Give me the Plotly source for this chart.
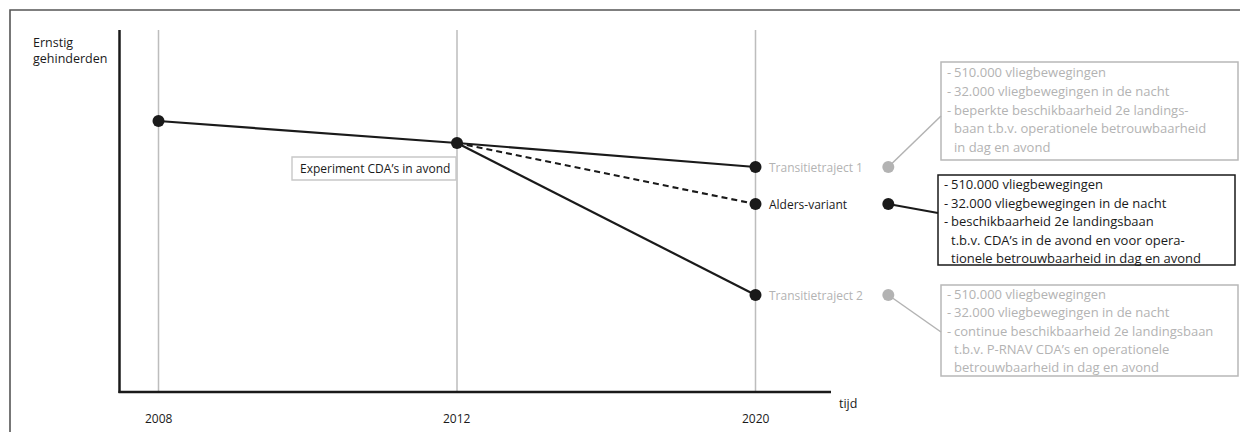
import plotly.graph_objects as go

# ---------------- data ----------------
years = ["2008", "2012", "2020"]
base_values = [271, 249]                      # ernstig gehinderden (relative index) 2008, 2012
scenarios = ["Transitietraject 1", "Alders-variant", "Transitietraject 2"]
scenario_2020 = [225, 188, 97]                # value in 2020 per scenario
scenario_active = [False, True, False]
scenario_dash = ["solid", "6px,4px", "solid"]
experiment_label = "Experiment CDA\u2019s in avond"
y_title = ["Ernstig", "gehinderden"]
x_title = "tijd"
box_lines = [
    [("-", "510.000 vliegbewegingen"),
     ("-", "32.000 vliegbewegingen in de nacht"),
     ("-", "beperkte beschikbaarheid 2e landings-"),
     ("", "baan t.b.v. operationele betrouwbaarheid"),
     ("", "in dag en avond")],
    [("-", "510.000 vliegbewegingen"),
     ("-", "32.000 vliegbewegingen in de nacht"),
     ("-", "beschikbaarheid 2e landingsbaan"),
     ("", "t.b.v. CDA\u2019s in de avond en voor opera-"),
     ("", "tionele betrouwbaarheid in dag en avond")],
    [("-", "510.000 vliegbewegingen"),
     ("-", "32.000 vliegbewegingen in de nacht"),
     ("-", "continue beschikbaarheid 2e landingsbaan"),
     ("", "t.b.v. P-RNAV CDA\u2019s en operationele"),
     ("", "betrouwbaarheid in dag en avond")],
]

# ---------------- layout constants (page pixels) ----------------
PAGE_W, PAGE_H = 1248, 432
OFF = 8                                  # default page body margin
W, H = PAGE_W - OFF, PAGE_H - OFF
FONT = "Open Sans"
BLACK = "#1a1a1a"
GREY = "#b3b3b3"
GRID = "#bdbdbd"
PX_PER_YEARSTEP = 298.5
X0_PX = 158.5            # page pixel of first category
BASE_PX = 392            # page pixel of x axis line
x0 = -(X0_PX - OFF) / PX_PER_YEARSTEP
x1 = x0 + W / PX_PER_YEARSTEP


def X(p):
    return x0 + (p - OFF) / PX_PER_YEARSTEP


def Y(p):
    return BASE_PX - p


AXIS_TOP_PX = 30
AXIS_LEFT_PX = 119.5
AXIS_RIGHT_PX = 831
CALLOUT_X = X(888.3)
BOX_LEFT = [941, 938, 941]
BOX_RIGHT = [1238, 1235, 1238]
BOX_TOP = [62, 175, 285]
BOX_BOTTOM = [160, 265, 376]
FIRST_LINE = [72, 184, 294]
LINE_STEP = [18.8, 18.5, 18.3]
CONN_END_Y = [116, 213, 332]
BOX_FONT = 13

xs_idx = list(range(len(years)))

fig = go.Figure()

# base line 2008-2012
fig.add_trace(go.Scatter(x=xs_idx[:2], y=base_values, mode="lines",
                         line=dict(color=BLACK, width=2.2), hoverinfo="skip"))
# scenario lines 2012-2020
for name, v, dash in zip(scenarios, scenario_2020, scenario_dash):
    fig.add_trace(go.Scatter(x=[xs_idx[1], xs_idx[2]], y=[base_values[1], v], mode="lines",
                             line=dict(color=BLACK, width=2.2, dash=dash), name=name,
                             hoverinfo="skip"))
# markers
fig.add_trace(go.Scatter(x=xs_idx[:2] + [xs_idx[2]] * len(scenarios),
                         y=base_values + scenario_2020, mode="markers",
                         marker=dict(color=BLACK, size=12), hoverinfo="skip"))
# callout dots
fig.add_trace(go.Scatter(x=[CALLOUT_X] * len(scenarios), y=scenario_2020, mode="markers",
                         marker=dict(color=[BLACK if a else GREY for a in scenario_active], size=12),
                         hoverinfo="skip"))

shapes = []
# outer frame (top + left)
fx = (10 - OFF) / W
fy = 1 - (10 - OFF) / H
shapes.append(dict(type="path", xref="paper", yref="paper",
                   path=f"M {fx} -0.01 L {fx} {fy} L 1.01 {fy}",
                   line=dict(color="#555555", width=1.6)))
# grid lines
for i in xs_idx:
    shapes.append(dict(type="line", x0=i, x1=i, y0=0, y1=Y(AXIS_TOP_PX),
                       line=dict(color=GRID, width=1.5), layer="below"))
# axes
shapes.append(dict(type="line", x0=X(AXIS_LEFT_PX), x1=X(AXIS_LEFT_PX), y0=Y(BASE_PX + 1), y1=Y(AXIS_TOP_PX),
                   line=dict(color=BLACK, width=2.5)))
shapes.append(dict(type="line", x0=X(AXIS_LEFT_PX - 1), x1=X(AXIS_RIGHT_PX), y0=0, y1=0,
                   line=dict(color=BLACK, width=2.5)))
# experiment box
shapes.append(dict(type="rect", x0=X(292), x1=X(456), y0=Y(157), y1=Y(180),
                   line=dict(color="#c8c8c8", width=1.4), layer="below"))

annotations = []
annotations.append(dict(x=X(298), y=Y(168.5), text=experiment_label, showarrow=False,
                        xanchor="left", yanchor="middle", font=dict(size=12, color=BLACK, family=FONT)))

# callout boxes and connectors
for k, (lines, v, active) in enumerate(zip(box_lines, scenario_2020, scenario_active)):
    col = BLACK if active else GREY
    bcol = BLACK if active else "#b8b8b8"
    shapes.append(dict(type="rect", x0=X(BOX_LEFT[k]), x1=X(BOX_RIGHT[k]),
                       y0=Y(BOX_TOP[k]), y1=Y(BOX_BOTTOM[k]),
                       line=dict(color=bcol, width=1.5)))
    shapes.append(dict(type="line", x0=CALLOUT_X, y0=v, x1=X(BOX_LEFT[k]), y1=Y(CONN_END_Y[k]),
                       line=dict(color=col, width=2 if active else 1.5)))
    for j, (bullet, txt) in enumerate(lines):
        yy = Y(FIRST_LINE[k] + j * LINE_STEP[k])
        if bullet:
            annotations.append(dict(x=X(BOX_LEFT[k] + 4), y=yy, text=bullet, showarrow=False,
                                    xanchor="left", yanchor="middle",
                                    font=dict(size=BOX_FONT, color=col, family=FONT)))
        annotations.append(dict(x=X(BOX_LEFT[k] + 11), y=yy, text=txt, showarrow=False,
                                xanchor="left", yanchor="middle",
                                font=dict(size=BOX_FONT, color=col, family=FONT)))

# scenario labels
for name, v, active in zip(scenarios, scenario_2020, scenario_active):
    annotations.append(dict(x=xs_idx[2], y=v, text=name, showarrow=False, xanchor="left",
                            yanchor="middle", xshift=11,
                            font=dict(size=12, color=BLACK if active else GREY, family=FONT)))

# tick labels
for i, yr in zip(xs_idx, years):
    annotations.append(dict(x=i, y=Y(418), text=yr, showarrow=False, xanchor="center",
                            yanchor="middle", font=dict(size=12, color=BLACK, family=FONT)))
annotations.append(dict(x=X(837), y=Y(403), text=x_title, showarrow=False, xanchor="left",
                        yanchor="middle", font=dict(size=12.5, color=BLACK, family=FONT)))
for j, t in enumerate(y_title):
    annotations.append(dict(x=X(31), y=Y(42 + j * 16.5), text=t, showarrow=False, xanchor="left",
                            yanchor="middle", font=dict(size=12.5, color=BLACK, family=FONT)))

fig.update_layout(
    width=W, height=H, margin=dict(l=0, r=0, t=0, b=0),
    paper_bgcolor="white", plot_bgcolor="white", showlegend=False,
    xaxis=dict(range=[x0, x1], visible=False, fixedrange=True),
    yaxis=dict(range=[Y(PAGE_H), Y(OFF)], visible=False, fixedrange=True),
    shapes=shapes, annotations=annotations,
    font=dict(family=FONT, color=BLACK),
)

fig.write_html("out.html")
